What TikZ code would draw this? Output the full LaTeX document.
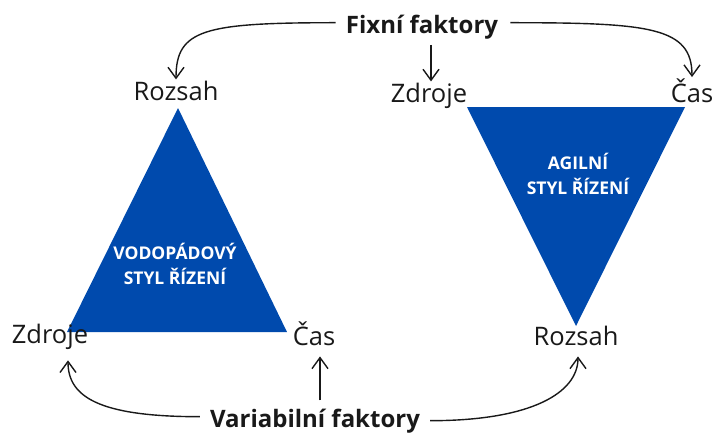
\documentclass[tikz,border=0pt]{standalone}
\usepackage{fontspec}
\setmainfont{Open Sans}
\usetikzlibrary{arrows.meta}
\definecolor{pmblue}{RGB}{0,74,173}
\tikzset{
  lbl/.style={anchor=base, inner sep=2pt, font=\fontsize{25.5}{29}\selectfont, text=black!90},
  factor/.style={anchor=base, inner sep=2pt, font=\fontsize{24}{28}\selectfont\bfseries, text=black!90},
  tritext/.style={align=center, text=white, font=\fontsize{17.5}{25}\selectfont\bfseries, inner sep=0pt},
  arr/.style={-{Straight Barb[length=11pt,width=16pt]}, line width=1.4pt, black!90},
}
\begin{document}
\begin{tikzpicture}[x=1pt,y=-1pt]
  \useasboundingbox (0,0) rectangle (715,432);

  % triangles
  \fill[pmblue] (67,332) -- (178,108) -- (287,332) -- cycle;
  \fill[pmblue] (467,107) -- (685,107) -- (576,326) -- cycle;
  \node[tritext] (waterfall) at (175,264) {VODOPÁDOVÝ\\STYL ŘÍZENÍ};
  \node[tritext] (agile) at (578,174) {AGILNÍ\\STYL ŘÍZENÍ};

  % corner labels
  \node[lbl] (rozsahL) at (176,100) {Rozsah};
  \node[lbl] (zdrojeL) at (50,343) {Zdroje};
  \node[lbl] (casL) at (314,345) {Čas};
  \node[lbl] (zdrojeR) at (429,102) {Zdroje};
  \node[lbl] (casR) at (692,102) {Čas};
  \node[lbl] (rozsahR) at (576,345) {Rozsah};

  % factor labels
  \node[factor] (fixni) at (422,33) {Fixní faktory};
  \node[factor] (variab) at (315,427) {Variabilní faktory};

  % fixed factors
  \draw[arr, shorten <=8pt] ([yshift=4pt]fixni.west) .. controls +(-140,0) and +(0,-50) .. ([yshift=-1pt]rozsahL.north);
  \draw[arr, shorten <=4pt] ([xshift=2pt]zdrojeR.north |- fixni.south) -- ([xshift=2pt,yshift=-1pt]zdrojeR.north);
  \draw[arr, shorten <=10pt] ([yshift=4pt]fixni.east) .. controls +(150,0) and +(0,-50) .. ([yshift=-1pt]casR.north);

  % variable factors
  \draw[arr, shorten <=8pt, shorten >=9pt] ([yshift=4pt]variab.west) .. controls +(-110,0) and +(0,45) .. ([xshift=18pt]zdrojeL.south);
  \draw[arr, shorten <=6pt, shorten >=9pt] ([xshift=6pt]casL.south |- variab.north) -- ([xshift=6pt]casL.south);
  \draw[arr, shorten <=8pt, shorten >=9pt] (variab.east) .. controls +(110,0) and +(0,45) .. ([xshift=2pt]rozsahR.south);
\end{tikzpicture}
\end{document}
